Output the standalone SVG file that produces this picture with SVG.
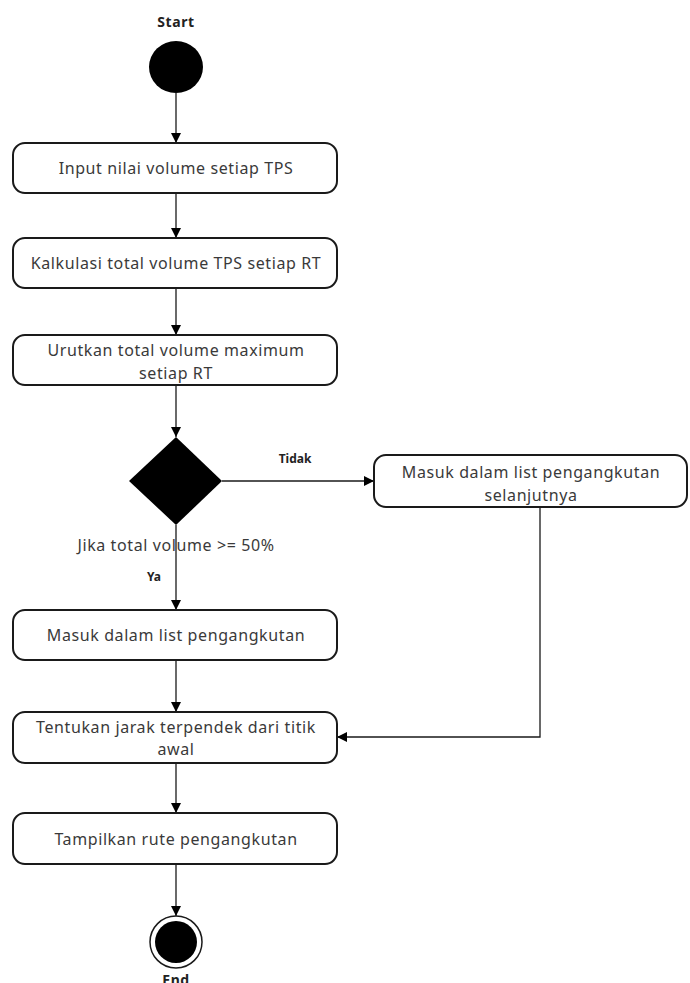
<svg xmlns="http://www.w3.org/2000/svg" width="690" height="983" viewBox="0 0 690 983">
  <style>
    .box { fill: #ffffff; stroke: #1a1a1a; stroke-width: 2; }
    .txt { font-family: "Noto Sans", "Open Sans", sans-serif; font-size: 16px; letter-spacing: 0.6px; fill: #3a3a3a; text-anchor: middle; }
    .lbl { font-family: "Noto Sans", "Open Sans", sans-serif; font-size: 12px; font-weight: bold; fill: #222222; text-anchor: middle; }
    .edge { fill: none; stroke: #1a1a1a; stroke-width: 1.3; }
  </style>
  <defs>
    <marker id="arrow" viewBox="0 0 10 10" refX="10" refY="5" markerWidth="10" markerHeight="10" markerUnits="userSpaceOnUse" orient="auto">
      <path d="M0,0 L10,5 L0,10 Z" fill="#000000"/>
    </marker>
  </defs>
  <rect width="690" height="983" fill="#ffffff"/>

  <!-- connectors and their labels -->
  <g id="connectors">
    <line class="edge" x1="176" y1="93" x2="176" y2="143" marker-end="url(#arrow)"/>
    <line class="edge" x1="176" y1="193" x2="176" y2="238" marker-end="url(#arrow)"/>
    <line class="edge" x1="176" y1="288" x2="176" y2="335" marker-end="url(#arrow)"/>
    <line class="edge" x1="176" y1="385" x2="176" y2="437" marker-end="url(#arrow)"/>
    <line class="edge" x1="222" y1="481" x2="374" y2="481" marker-end="url(#arrow)"/>
    <line class="edge" x1="176" y1="525" x2="176" y2="610" marker-end="url(#arrow)"/>
    <line class="edge" x1="176" y1="660" x2="176" y2="712" marker-end="url(#arrow)"/>
    <polyline class="edge" points="540,507 540,737 337,737" marker-end="url(#arrow)"/>
    <line class="edge" x1="176" y1="763" x2="176" y2="813" marker-end="url(#arrow)"/>
    <line class="edge" x1="176" y1="864" x2="176" y2="916" marker-end="url(#arrow)"/>
    <text class="lbl" x="295" y="463">Tidak</text>
    <text class="txt" x="176" y="551">Jika total volume &gt;= 50%</text>
    <text class="lbl" x="154" y="581">Ya</text>
  </g>

  <g id="start">
    <text class="lbl" x="176" y="27" style="font-size:14px;letter-spacing:0.6px">Start</text>
    <ellipse cx="176" cy="67" rx="27" ry="26" fill="#000000"/>
  </g>

  <g id="input">
    <rect class="box" x="13" y="143" width="324" height="50" rx="12"/>
    <text class="txt" x="176" y="174">Input nilai volume setiap TPS</text>
  </g>

  <g id="kalkulasi">
    <rect class="box" x="13" y="238" width="324" height="50" rx="12"/>
    <text class="txt" x="176" y="269">Kalkulasi total volume TPS setiap RT</text>
  </g>

  <g id="urutkan">
    <rect class="box" x="13" y="335" width="324" height="50" rx="12"/>
    <text class="txt" x="176" y="356">Urutkan total volume maximum</text>
    <text class="txt" x="176" y="379">setiap RT</text>
  </g>

  <g id="decision">
    <polygon points="176,437 222,481 176,525 129,481" fill="#000000"/>
  </g>

  <g id="selanjutnya">
    <rect class="box" x="374" y="455" width="313" height="52" rx="12"/>
    <text class="txt" x="531" y="478">Masuk dalam list pengangkutan</text>
    <text class="txt" x="531" y="501">selanjutnya</text>
  </g>

  <g id="masuk">
    <rect class="box" x="13" y="610" width="324" height="50" rx="12"/>
    <text class="txt" x="176" y="641">Masuk dalam list pengangkutan</text>
  </g>

  <g id="tentukan">
    <rect class="box" x="13" y="712" width="324" height="51" rx="12"/>
    <text class="txt" x="176" y="733">Tentukan jarak terpendek dari titik</text>
    <text class="txt" x="176" y="755">awal</text>
  </g>

  <g id="tampilkan">
    <rect class="box" x="13" y="813" width="324" height="51" rx="12"/>
    <text class="txt" x="176" y="845">Tampilkan rute pengangkutan</text>
  </g>

  <g id="end">
    <circle cx="176" cy="942" r="26" fill="#ffffff" stroke="#1a1a1a" stroke-width="1.5"/>
    <circle cx="176" cy="942" r="21" fill="#000000"/>
    <text class="lbl" x="176" y="985" style="font-size:14px;letter-spacing:0.6px">End</text>
  </g>
</svg>
